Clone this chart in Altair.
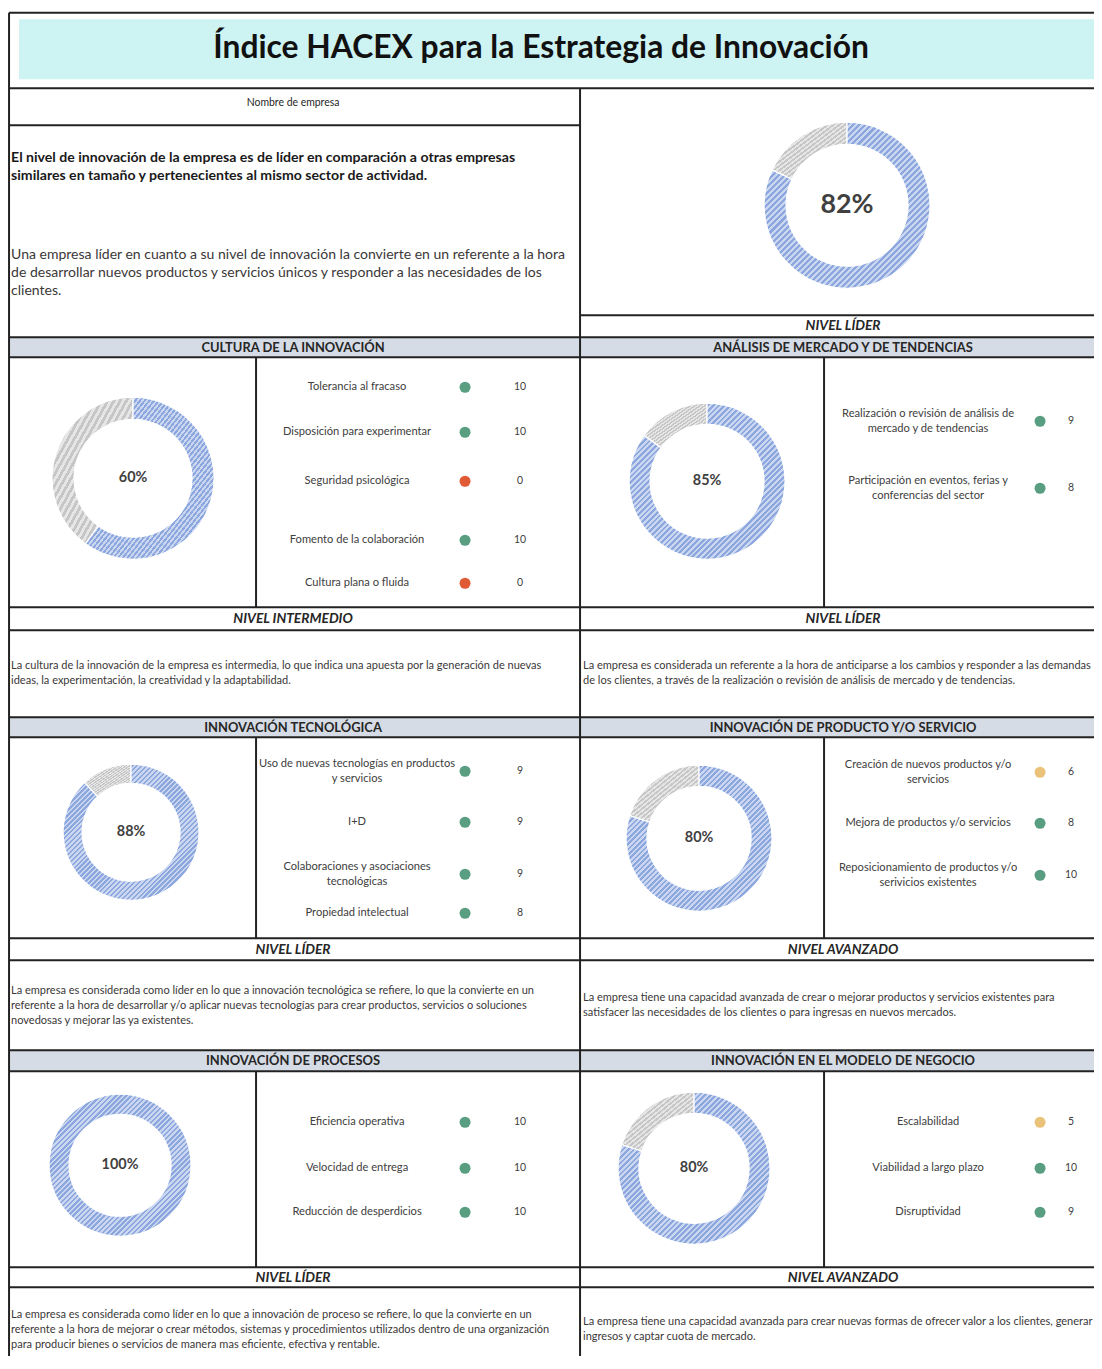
import altair as alt
import pandas as pd

# ------------------------------------------------------------------ data
title_text = "Índice HACEX para la Estrategia de Innovación"
company_label = "Nombre de empresa"
overall_score = 82
overall_level = "NIVEL LÍDER"
overall_summary = ("El nivel de innovación de la empresa es de líder en comparación a otras empresas\n"
                   "similares en tamaño y pertenecientes al mismo sector de actividad.")
overall_detail = ("Una empresa líder en cuanto a su nivel de innovación la convierte en un referente a la hora\n"
                  "de desarrollar nuevos productos y servicios únicos y responder a las necesidades de los\n"
                  "clientes.")

section_titles = ["CULTURA DE LA INNOVACIÓN", "ANÁLISIS DE MERCADO Y DE TENDENCIAS",
                  "INNOVACIÓN TECNOLÓGICA", "INNOVACIÓN DE PRODUCTO Y/O SERVICIO",
                  "INNOVACIÓN DE PROCESOS", "INNOVACIÓN EN EL MODELO DE NEGOCIO"]
section_scores = [60, 85, 88, 80, 100, 80]
section_levels = ["NIVEL INTERMEDIO", "NIVEL LÍDER", "NIVEL LÍDER",
                  "NIVEL AVANZADO", "NIVEL LÍDER", "NIVEL AVANZADO"]
section_items = [
    ["Tolerancia al fracaso", "Disposición para experimentar", "Seguridad psicológica",
     "Fomento de la colaboración", "Cultura plana o fluida"],
    ["Realización o revisión de análisis de\nmercado y de tendencias",
     "Participación en eventos, ferias y\nconferencias del sector"],
    ["Uso de nuevas tecnologías en productos\ny servicios", "I+D",
     "Colaboraciones y asociaciones\ntecnológicas", "Propiedad intelectual"],
    ["Creación de nuevos productos y/o\nservicios", "Mejora de productos y/o servicios",
     "Reposicionamiento de productos y/o\nserivicios existentes"],
    ["Eficiencia operativa", "Velocidad de entrega", "Reducción de desperdicios"],
    ["Escalabilidad", "Viabilidad a largo plazo", "Disruptividad"],
]
item_scores = [[10, 10, 0, 10, 0], [9, 8], [9, 9, 9, 8], [6, 8, 10], [10, 10, 10], [5, 10, 9]]
section_texts = [
    "La cultura de la innovación de la empresa es intermedia, lo que indica una apuesta por la generación de nuevas\n"
    "ideas, la experimentación, la creatividad y la adaptabilidad.",
    "La empresa es considerada un referente a la hora de anticiparse a los cambios y responder a las demandas\n"
    "de los clientes, a través de la realización o revisión de análisis de mercado y de tendencias.",
    "La empresa es considerada como líder en lo que a innovación tecnológica se refiere, lo que la convierte en un\n"
    "referente a la hora de desarrollar y/o aplicar nuevas tecnologías para crear productos, servicios o soluciones\n"
    "novedosas y mejorar las ya existentes.",
    "La empresa tiene una capacidad avanzada de crear o mejorar productos y servicios existentes para\n"
    "satisfacer las necesidades de los clientes o para ingresas en nuevos mercados.",
    "La empresa es considerada como líder en lo que a innovación de proceso se refiere, lo que la convierte en un\n"
    "referente a la hora de mejorar o crear métodos, sistemas y procedimientos utilizados dentro de una organización\n"
    "para producir bienes o servicios de manera mas eficiente, efectiva y rentable.",
    "La empresa tiene una capacidad avanzada para crear nuevas formas de ofrecer valor a los clientes, generar\n"
    "ingresos y captar cuota de mercado.",
]

# ------------------------------------------------------------------ layout (reference pixels)
W, H = 1092, 1348
K, OY = 0.9945, 3.5          # reference-pixel -> page-pixel calibration
FONT = "Lato"
INK = "#262626"
TXT = "#3b3838"
GREEN, YELLOW, RED = "#5a9e82", "#eac27a", "#e05a35"

rows = [dict(band=(337, 357), body=(357, 607), nivel=(607, 630), desc=(630, 717)),
        dict(band=(717, 737), body=(737, 938), nivel=(938, 960), desc=(960, 1050)),
        dict(band=(1050, 1071), body=(1071, 1267), nivel=(1267, 1287), desc=(1287, 1380))]
cols = [dict(split=256, lab=357, dot=465, val=520, tx=11, mid=293),
        dict(split=824, lab=928, dot=1040, val=1071, tx=583, mid=843)]
donut_geo = [(847, 205, 83, 61),            # overall
             (133, 478, 81, 59), (707, 481, 78, 57), (131, 832, 68, 49),
             (699, 838, 73, 52), (120, 1165, 71, 51), (694, 1168, 76, 55)]
item_y = [[387, 432, 481, 540, 583], [421, 488], [771, 822, 874, 913],
          [772, 823, 875], [1122, 1168, 1212], [1122, 1168, 1212]]
desc_center = [673.5, 673.5, 1006, 1005.5, 1330, 1329.5]

XS = alt.Scale(domain=[8 * K, 8 * K + W * K], range=[0, W], nice=False, zero=False)
YS = alt.Scale(domain=[OY + 8 * K, OY + 8 * K + H * K], range=[0, H], nice=False, zero=False)


def X(f):
    return alt.X(f, type="quantitative", scale=XS, axis=None)


def Y(f):
    return alt.Y(f, type="quantitative", scale=YS, axis=None)


def first_line(center, text, lh):
    return center - (text.count("\n")) * lh / 2


# ------------------------------------------------------------------ frames
rects = [dict(x=19, x2=1100, y=19, y2=79, fill="#cdf3f3")]
for r in rows:
    rects.append(dict(x=9, x2=1110, y=r["band"][0], y2=r["band"][1], fill="#d6dce5"))
rect_df = pd.DataFrame(rects)

TOP = 12.6
lines = [(9, 9, TOP, 1400), (9, 1110, TOP, TOP), (9, 1110, 88, 88), (9, 580, 125, 125),
         (580, 1110, 315, 315), (580, 580, 88, 1400)]
for r in rows:
    for yy in (r["band"][0], r["band"][1], r["nivel"][0], r["nivel"][1]):
        lines.append((9, 1110, yy, yy))
    for c in cols:
        lines.append((c["split"], c["split"], r["body"][0], r["body"][1]))
line_df = pd.DataFrame(lines, columns=["x", "x2", "y", "y2"])

rect_layer = alt.Chart(rect_df).mark_rect().encode(
    x=X("x"), x2="x2", y=Y("y"), y2="y2", fill=alt.Fill("fill:N", scale=None))
line_layer = alt.Chart(line_df).mark_rule(color="#222222", strokeWidth=2).encode(
    x=X("x"), x2="x2", y=Y("y"), y2="y2")

# ------------------------------------------------------------------ donuts
scores_all = [overall_score] + section_scores
drows = []
for k, (sc, (cx, cy, ro, ri)) in enumerate(zip(scores_all, donut_geo)):
    for part, order, v in (("a", 0, sc), ("b", 1, 100 - sc)):
        drows.append(dict(donut=k, part=part, order=order, v=v, cx=cx, cy=cy,
                          ro=ro / K, ri=ri / K))
donut_df = pd.DataFrame(drows)


def stripes(dark, light, n, frac=0.5):
    stops = []
    for i in range(n):
        a, m, b = i / n, (i + frac) / n, (i + 1) / n
        stops += [dict(offset=a, color=dark), dict(offset=m, color=dark),
                  dict(offset=m, color=light), dict(offset=b, color=light)]
    return dict(gradient="linear", x1=0, y1=0, x2=1, y2=1, stops=stops)


blue_fill = stripes("#8ba7de", "#cbd7f1", 55)
grey_fill = stripes("#c6c6c6", "#e6e6e6", 26)

donut_base = alt.Chart(donut_df).transform_window(
    cum="sum(v)", groupby=["donut"], sort=[alt.SortField("order")], frame=[None, 0]
).transform_calculate(start="datum.cum - datum.v").transform_filter("datum.v > 0")

donut_enc = dict(
    x=X("cx"), y=Y("cy"),
    theta=alt.Theta("start:Q", scale=alt.Scale(domain=[0, 100])), theta2="cum:Q",
    radius=alt.Radius("ro:Q", scale=None), radius2="ri:Q")

blue_layer = donut_base.transform_filter("datum.part == 'a'").mark_arc(
    fill=blue_fill, stroke="white", strokeWidth=1.2).encode(**donut_enc)
grey_layer = donut_base.transform_filter("datum.part == 'b'").mark_arc(
    fill=grey_fill, stroke="white", strokeWidth=1.2).encode(**donut_enc)

pct_df = pd.DataFrame([dict(x=g[0], y=g[1], text=f"{s}%", big=(k == 0))
                       for k, (s, g) in enumerate(zip(scores_all, donut_geo))])
pct_big = alt.Chart(pct_df[pct_df.big]).mark_text(
    font=FONT, fontSize=27, fontWeight="bold", color="#404040", baseline="middle").encode(
    x=X("x"), y=Y("y"), text="text:N")
pct_small = alt.Chart(pct_df[~pct_df.big]).mark_text(
    font=FONT, fontSize=14.5, fontWeight="bold", color="#404040", baseline="middle").encode(
    x=X("x"), y=Y("y"), text="text:N")

# ------------------------------------------------------------------ items
ILH = 15
irows = []
for s in range(6):
    c = cols[s % 2]
    for lab, sc, yy in zip(section_items[s], item_scores[s], item_y[s]):
        irows.append(dict(label=lab, score=sc, sval=str(sc), y=yy,
                          ly=first_line(yy, lab, ILH * K),
                          lx=c["lab"], dx=c["dot"], vx=c["val"]))
item_df = pd.DataFrame(irows)

item_labels = alt.Chart(item_df).mark_text(
    font=FONT, fontSize=11.2, color="#404040", lineBreak="\n", lineHeight=ILH,
    baseline="middle").encode(x=X("lx"), y=Y("ly"), text="label:N")
item_dots = alt.Chart(item_df).mark_point(filled=True, shape="circle", size=122, opacity=1).encode(
    x=X("dx"), y=Y("y"),
    color=alt.Color("score:Q", scale=alt.Scale(type="threshold", domain=[4, 7],
                                                range=[RED, YELLOW, GREEN]), legend=None))
item_vals = alt.Chart(item_df).mark_text(
    font=FONT, fontSize=10.5, color="#404040", baseline="middle").encode(
    x=X("vx"), y=Y("y"), text="sval:N")

# ------------------------------------------------------------------ texts
DLH = 15
hdr, niv, desc = [], [], []
for s in range(6):
    c, r = cols[s % 2], rows[s // 2]
    hdr.append(dict(x=c["mid"], y=(r["band"][0] + r["band"][1]) / 2 + 0.5, text=section_titles[s]))
    niv.append(dict(x=c["mid"], y=(r["nivel"][0] + r["nivel"][1]) / 2 + 0.5, text=section_levels[s]))
    desc.append(dict(x=c["tx"], y=first_line(desc_center[s], section_texts[s], DLH * K),
                     text=section_texts[s]))
niv.append(dict(x=843, y=326, text=overall_level))

hdr_layer = alt.Chart(pd.DataFrame(hdr)).mark_text(
    font=FONT, fontSize=13, fontWeight="bold", color=INK, baseline="middle").encode(
    x=X("x"), y=Y("y"), text="text:N")
niv_layer = alt.Chart(pd.DataFrame(niv)).mark_text(
    font=FONT, fontSize=13.8, fontWeight="bold", fontStyle="italic", color=INK,
    baseline="middle").encode(x=X("x"), y=Y("y"), text="text:N")
desc_layer = alt.Chart(pd.DataFrame(desc)).mark_text(
    font=FONT, fontSize=11.1, color=TXT, align="left", baseline="middle",
    lineBreak="\n", lineHeight=DLH).encode(x=X("x"), y=Y("y"), text="text:N")

PLH = 18
title_layer = alt.Chart(pd.DataFrame([dict(x=541, y=48, text=title_text)])).mark_text(
    font=FONT, fontSize=32, fontWeight="bold", color="#111111", baseline="middle").encode(
    x=X("x"), y=Y("y"), text="text:N")
name_layer = alt.Chart(pd.DataFrame([dict(x=293, y=103, text=company_label)])).mark_text(
    font=FONT, fontSize=10.5, color=INK, baseline="middle").encode(
    x=X("x"), y=Y("y"), text="text:N")
summ_layer = alt.Chart(pd.DataFrame([dict(x=11, y=first_line(167, overall_summary, PLH * K),
                                          text=overall_summary)])).mark_text(
    font=FONT, fontSize=14.2, fontWeight="bold", color="#1a1a1a", align="left",
    baseline="middle", lineBreak="\n", lineHeight=PLH).encode(x=X("x"), y=Y("y"), text="text:N")
detail_layer = alt.Chart(pd.DataFrame([dict(x=11, y=first_line(273, overall_detail, PLH * K),
                                            text=overall_detail)])).mark_text(
    font=FONT, fontSize=14.1, color=TXT, align="left",
    baseline="middle", lineBreak="\n", lineHeight=PLH).encode(x=X("x"), y=Y("y"), text="text:N")

chart = alt.layer(
    rect_layer, line_layer, grey_layer, blue_layer, pct_big, pct_small,
    item_labels, item_dots, item_vals, hdr_layer, niv_layer, desc_layer,
    title_layer, name_layer, summ_layer, detail_layer,
).properties(
    width=W, height=H, padding=0, background="white",
    autosize=alt.AutoSizeParams(type="none"),
).configure_view(strokeWidth=0)

chart.save("out.html", embed_options={"renderer": "svg", "actions": False})
